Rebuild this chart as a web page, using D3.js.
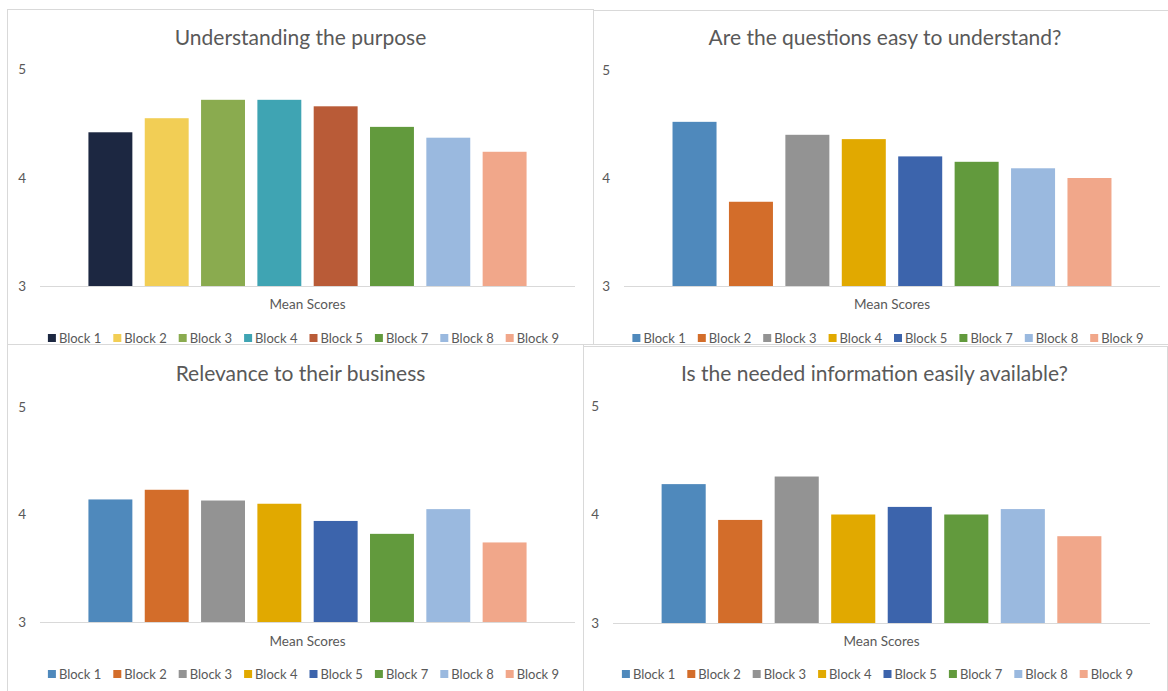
<!DOCTYPE html>
<html>
<head>
<meta charset="utf-8">
<script src="https://cdn.jsdelivr.net/npm/d3@7"></script>
<style>
  body { margin: 0; background: #fff; }
  text { font-family: Lato, "Open Sans", sans-serif; fill: #595959; }
</style>
</head>
<body>
<svg id="chart"></svg>
<script>
var WIDTH = 1168;
var HEIGHT = 691;

// series / categories
var blocks = ["Block 1", "Block 2", "Block 3", "Block 4", "Block 5", "Block 7", "Block 8", "Block 9"];
var titles = [
  "Understanding the purpose",
  "Are the questions easy to understand?",
  "Relevance to their business",
  "Is the needed information easily available?"
];
var axisLabel = "Mean Scores";
var yTicks = [3, 4, 5];

// mean score per block, one array per chart
var purposeScores = [4.42, 4.55, 4.72, 4.72, 4.66, 4.47, 4.37, 4.24];
var clarityScores = [4.52, 3.78, 4.40, 4.36, 4.20, 4.15, 4.09, 4.00];
var relevanceScores = [4.14, 4.23, 4.13, 4.10, 3.94, 3.82, 4.05, 3.74];
var availabilityScores = [4.28, 3.95, 4.35, 4.00, 4.07, 4.00, 4.05, 3.80];

// colours
var firstPalette = ["#1c2741", "#f2ce55", "#8aab4f", "#3fa4b3", "#b95b37", "#629a3d", "#9ab9df", "#f1a78a"];
var officePalette = ["#4f89bc", "#d36d2a", "#939393", "#e1a900", "#3c64ac", "#629a3d", "#9ab9df", "#f1a78a"];

// where each chart sits on the page
var panels = [
  { title: titles[0], values: purposeScores, colors: firstPalette,
    box: [7.5, 9.5, 593.5, 344.5], left: 40, right: 575, y3: 286, y5: 69.5,
    titleY: 45, labelY: 309, legendY: 338 },
  { title: titles[1], values: clarityScores, colors: officePalette,
    box: [593.5, 10.5, 1175, 344.5], left: 624, right: 1160, y3: 286, y5: 70,
    titleY: 45, labelY: 309, legendY: 338 },
  { title: titles[2], values: relevanceScores, colors: officePalette,
    box: [7.5, 344.5, 583.5, 700], left: 40, right: 575, y3: 622, y5: 407,
    titleY: 381, labelY: 646, legendY: 674 },
  { title: titles[3], values: availabilityScores, colors: officePalette,
    box: [583.5, 346.5, 1167.5, 700], left: 613, right: 1150, y3: 623, y5: 406,
    titleY: 381, labelY: 646, legendY: 674 }
];

var svg = d3.select("#chart").attr("width", WIDTH).attr("height", HEIGHT);

//draw a panel: frame, title, axis, bars, legend
panels.forEach(function (p) {
  var g = svg.append("g");

  g.append("rect")
    .attr("x", p.box[0])
    .attr("y", p.box[1])
    .attr("width", p.box[2] - p.box[0])
    .attr("height", p.box[3] - p.box[1])
    .attr("fill", "#fff")
    .attr("stroke", "#d9d9d9")
    .attr("stroke-width", 1);

  var mid = (p.left + p.right) / 2;

  var x = d3.scaleBand()
    .domain(blocks)
    .range([p.left, p.right])
    .paddingInner(0.22)
    .paddingOuter(0.86);

  var y = d3.scaleLinear().domain([3, 5]).range([p.y3, p.y5]);

  g.append("text")
    .attr("x", mid - 7)
    .attr("y", p.titleY)
    .attr("text-anchor", "middle")
    .style("font-size", "21px")
    .text(p.title);

  //y axis labels only
  var yAxis = g.append("g")
    .attr("transform", "translate(" + p.left + ",0)")
    .call(d3.axisLeft(y).tickValues(yTicks).tickSize(0).tickPadding(14).tickFormat(d3.format("d")));
  yAxis.select(".domain").remove();
  yAxis.selectAll("text")
    .style("font-size", "13.5px")
    .style("font-family", "Lato, sans-serif")
    .attr("fill", "#595959");

  //baseline
  g.append("line")
    .attr("x1", p.left)
    .attr("x2", p.right)
    .attr("y1", y(3) + 0.5)
    .attr("y2", y(3) + 0.5)
    .attr("stroke", "#d9d9d9")
    .attr("stroke-width", 1);

  g.selectAll("rect.bar")
    .data(p.values)
    .enter()
    .append("rect")
    .attr("class", "bar")
    .attr("x", function (d, i) { return x(blocks[i]); })
    .attr("width", x.bandwidth())
    .attr("y", function (d) { return y(d); })
    .attr("height", function (d) { return y(3) - y(d); })
    .attr("fill", function (d, i) { return p.colors[i]; });

  g.append("text")
    .attr("x", mid)
    .attr("y", p.labelY)
    .attr("text-anchor", "middle")
    .style("font-size", "13.5px")
    .text(axisLabel);

  //legend, equal spaced items
  var step = 65.4;
  var start = mid - 4 - (step * blocks.length - 12) / 2;
  var legend = g.selectAll("g.legend")
    .data(blocks)
    .enter()
    .append("g")
    .attr("class", "legend")
    .attr("transform", function (d, i) {
      return "translate(" + (start + i * step) + "," + p.legendY + ")";
    });
  legend.append("rect")
    .attr("x", 0)
    .attr("y", -4)
    .attr("width", 8)
    .attr("height", 8)
    .attr("fill", function (d, i) { return p.colors[i]; });
  legend.append("text")
    .attr("x", 11)
    .attr("y", 4.5)
    .style("font-size", "13px")
    .text(function (d) { return d; });
});
</script>
</body>
</html>
